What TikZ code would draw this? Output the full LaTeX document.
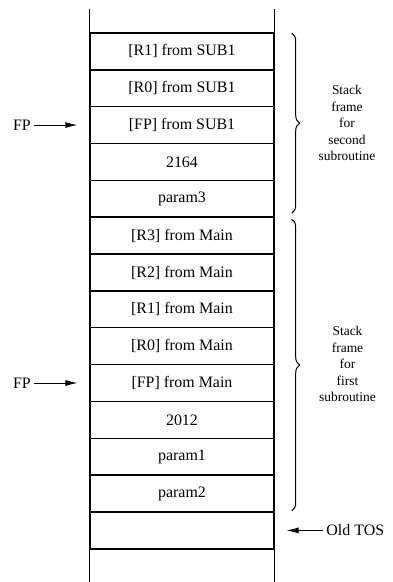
\documentclass[tikz,border=0pt]{standalone}
\usepackage{fontspec}
\setmainfont{Liberation Serif}
\usetikzlibrary{positioning, arrows.meta, decorations.pathreplacing}

\begin{document}
\begin{tikzpicture}[transform shape,
	cell/.style={shape=rectangle, draw, line width=1.5pt, minimum width=6.49cm, minimum height=1.3cm, inner sep=0pt, font=\fontsize{16}{19}\selectfont},
	wall/.style={line width=1.5pt},
	pointer/.style={-{Latex[length=12pt, width=6pt]}, line width=0.8pt},
	tag/.style={font=\fontsize{16}{19}\selectfont},
	frame brace/.style={decorate, decoration={brace, amplitude=8pt}, line width=1pt},
	note/.style={align=center, font=\fontsize{13.5}{16.5}\selectfont}]
	\useasboundingbox (0, 0) rectangle (13.864, 20.532);
	% Stack slots:
	\node[cell] (sub1R1) at (6.42, 18.72){[R1] from SUB1};
	\node[cell] (sub1R0) at (6.42, 17.42){[R0] from SUB1};
	\node[cell] (sub1FP) at (6.42, 16.12){[FP] from SUB1};
	\node[cell] (ret2164) at (6.42, 14.82){2164};
	\node[cell] (param3) at (6.42, 13.52){param3};
	\node[cell] (mainR3) at (6.42, 12.22){[R3] from Main};
	\node[cell] (mainR2) at (6.42, 10.92){[R2] from Main};
	\node[cell] (mainR1) at (6.42, 9.62){[R1] from Main};
	\node[cell] (mainR0) at (6.42, 8.32){[R0] from Main};
	\node[cell] (mainFP) at (6.42, 7.02){[FP] from Main};
	\node[cell] (ret2012) at (6.42, 5.72){2012};
	\node[cell] (param1) at (6.42, 4.42){param1};
	\node[cell] (param2) at (6.42, 3.12){param2};
	\node[cell] (oldtos) at (6.42, 1.82){};
	% Open ends of the stack:
	\draw[wall] (sub1R1.north west) -- ++(0, 0.81);
	\draw[wall] (sub1R1.north east) -- ++(0, 0.81);
	\draw[wall] (oldtos.south west) -- ++(0, -1.17);
	\draw[wall] (oldtos.south east) -- ++(0, -1.17);
	% Frames:
	\draw[frame brace] ([xshift=0.6cm, yshift=-0.03cm]sub1R1.north east) -- ([xshift=0.6cm, yshift=0.17cm]param3.south east);
	\draw[frame brace] ([xshift=0.6cm, yshift=-0.1cm]mainR3.north east) -- ([xshift=0.6cm, yshift=0.07cm]param2.south east);
	\node[note] (frame2) at (12.24, 16.19){Stack\\frame\\for\\second\\subroutine};
	\node[note] (frame1) at (12.26, 7.69){Stack\\frame\\for\\first\\subroutine};
	% Pointers:
	\node[tag] (fpsub) [left=1.94cm of sub1FP]{FP};
	\node[tag] (fpmain) [left=1.94cm of mainFP]{FP};
	\node[tag] (toslabel) [right=1.7cm of oldtos]{Old TOS};
	\draw[pointer, shorten >=0.42cm] (fpsub) -- (sub1FP);
	\draw[pointer, shorten >=0.42cm] (fpmain) -- (mainFP);
	\draw[pointer, shorten >=0.42cm] (toslabel) -- (oldtos);
\end{tikzpicture}
\end{document}
